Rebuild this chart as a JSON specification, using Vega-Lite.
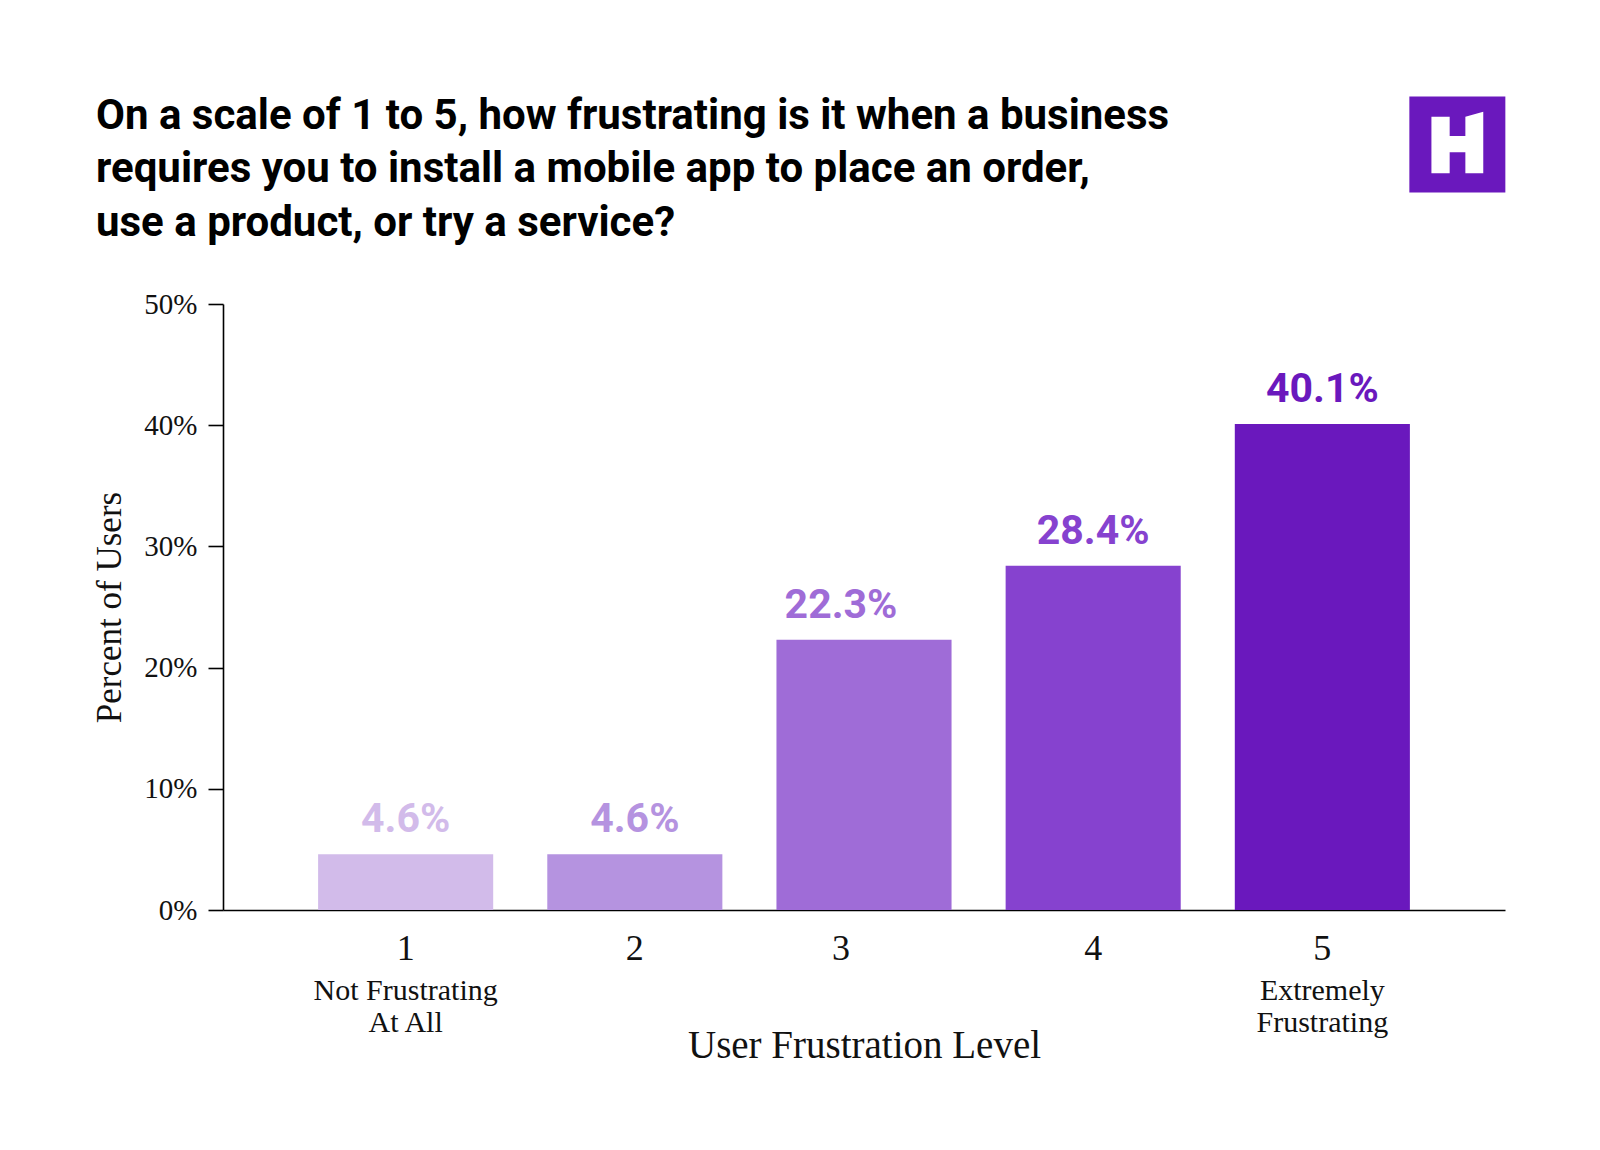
{
  "$schema": "https://vega.github.io/schema/vega-lite/v6.json",
  "width": 1282,
  "height": 606,
  "autosize": "none",
  "padding": {"left": 223, "top": 304, "right": 95, "bottom": 240},
  "background": "white",
  "title": {
    "text": [
      "On a scale of 1 to 5, how frustrating is it when a business",
      "requires you to install a mobile app to place an order,",
      "use a product, or try a service?"
    ],
    "anchor": "start",
    "frame": "group",
    "dx": -127,
    "dy": 194,
    "offset": 46,
    "font": "Roboto",
    "fontSize": 42,
    "fontWeight": "bold",
    "lineHeight": 53.5,
    "color": "#000000"
  },
  "config": {
    "view": {"stroke": null},
    "axis": {
      "labelFont": "Liberation Serif",
      "titleFont": "Liberation Serif",
      "titleFontWeight": "normal",
      "labelColor": "#111111",
      "titleColor": "#111111",
      "domainColor": "#000000",
      "tickColor": "#000000",
      "domainWidth": 1.6,
      "tickWidth": 1.6,
      "grid": false
    }
  },
  "data": {
    "values": [
      {"level": "1", "share": 0.046, "note": "Not Frustrating\nAt All"},
      {"level": "2", "share": 0.046, "note": ""},
      {"level": "3", "share": 0.223, "note": ""},
      {"level": "4", "share": 0.284, "note": ""},
      {"level": "5", "share": 0.401, "note": "Extremely\nFrustrating"}
    ]
  },
  "encoding": {
    "x": {
      "field": "level",
      "type": "ordinal",
      "sort": null,
      "scale": {"paddingInner": 0.236, "paddingOuter": 0.415},
      "axis": {
        "title": "User Frustration Level",
        "titleFontSize": 39,
        "titlePadding": 60,
        "labelFontSize": 36,
        "labelAngle": 0,
        "labelPadding": 21,
        "labelOffset": {"condition": {"test": "datum.value === '3'", "value": -23}, "value": 0},
        "ticks": false
      }
    },
    "y": {
      "field": "share",
      "type": "quantitative",
      "scale": {"domain": [0, 0.5], "nice": false},
      "axis": {
        "title": "Percent of Users",
        "titleFontSize": 35,
        "titlePadding": 16,
        "format": ".0%",
        "values": [0, 0.1, 0.2, 0.3, 0.4, 0.5],
        "labelFontSize": 29,
        "labelPadding": 11,
        "tickSize": 15
      }
    },
    "color": {
      "field": "level",
      "type": "ordinal",
      "sort": null,
      "legend": null,
      "scale": {"range": ["#D2BBEA", "#B593E0", "#9F6CD7", "#8642CF", "#6A18BD"]}
    }
  },
  "layer": [
    {"mark": {"type": "bar", "clip": false}},
    {
      "mark": {
        "type": "text",
        "font": "Roboto",
        "fontWeight": "bold",
        "fontSize": 41,
        "baseline": "middle",
        "dy": -34,
        "dx": {"expr": "datum.level === '3' ? -23 : 0"}
      },
      "encoding": {
        "text": {"field": "share", "type": "quantitative", "format": ".1%"}
      }
    },
    {
      "transform": [{"filter": "datum.note !== ''"}],
      "mark": {
        "type": "text",
        "font": "Liberation Serif",
        "fontSize": 30,
        "lineBreak": "\n",
        "lineHeight": 32,
        "baseline": "top",
        "dy": 66
      },
      "encoding": {
        "y": {"datum": 0},
        "text": {"field": "note", "type": "nominal"},
        "color": {"value": "#111111"}
      }
    },
    {
      "transform": [{"filter": "datum.level === '5'"}],
      "mark": {
        "type": "point",
        "shape": "square",
        "filled": true,
        "opacity": 1,
        "size": 9216,
        "xOffset": 135
      },
      "encoding": {
        "y": {"datum": 0.6316},
        "color": {"value": "#6A18BD"}
      }
    },
    {
      "transform": [{"filter": "datum.level === '5'"}],
      "mark": {
        "type": "point",
        "shape": "M-0.54,-0.58L-0.16,-0.58L-0.16,-0.177L0.167,-0.177L0.167,-0.58L0.54,-0.683L0.54,0.6L0.167,0.6L0.167,0.163L-0.16,0.163L-0.16,0.6L-0.54,0.6Z",
        "filled": true,
        "opacity": 1,
        "size": 9216,
        "xOffset": 135
      },
      "encoding": {
        "y": {"datum": 0.6316},
        "color": {"value": "#FFFFFF"}
      }
    }
  ]
}
